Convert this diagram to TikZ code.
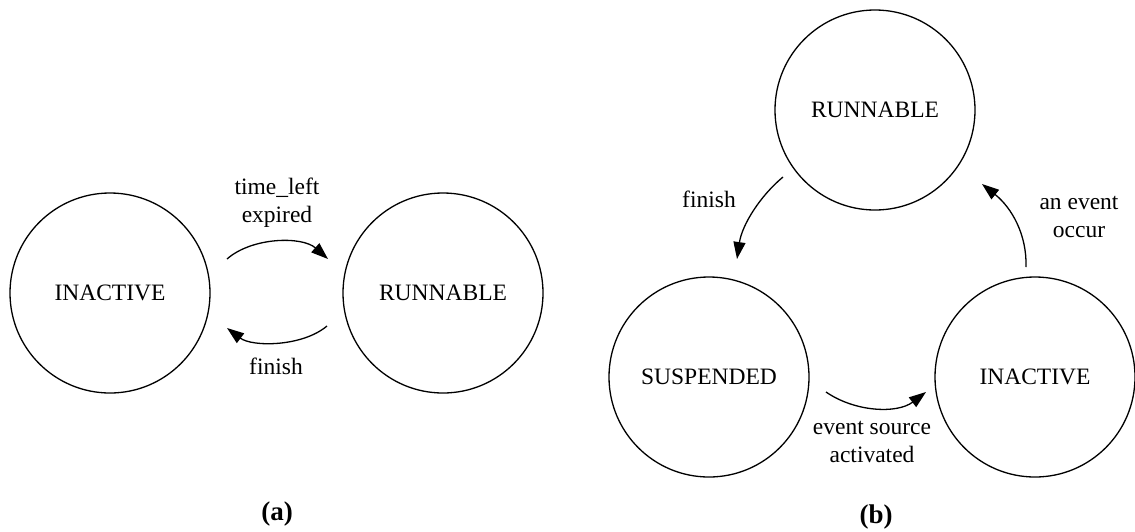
\documentclass[tikz,border=0pt]{standalone}
\usepackage{fontspec}
\setmainfont{Liberation Serif}
\usetikzlibrary{arrows.meta}
\begin{document}
\begin{tikzpicture}[x=1pt,y=-1pt,
  state/.style={draw,circle,line width=1.3pt,minimum size=200pt,inner sep=0pt,font=\fontsize{23.5}{28}\selectfont},
  lbl/.style={align=center,inner sep=0pt,font=\fontsize{23.5}{28}\selectfont},
  sublbl/.style={inner sep=0pt,font=\fontsize{27}{30}\selectfont\bfseries},
  arr/.style={line width=1.3pt,-{Triangle[length=17pt,width=12pt]}}]
\useasboundingbox (0,0) rectangle (1135,531);
% (a)
\node[state] (ia) at (110,293) {INACTIVE};
\node[state] (ra) at (443,293) {RUNNABLE};
\coordinate (a1s) at (227,259);
\coordinate (a1e) at (328,259);
\coordinate (a2s) at (327,326);
\coordinate (a2e) at (227,328);
\draw[arr] (a1s) .. controls (252,237) and (302,236) .. (a1e);
\draw[arr] (a2s) .. controls (302,347) and (252,347) .. (a2e);
\node[lbl] (l1) at (277,203) {time\_left\\expired};
\node[lbl] (l2) at (276,366) {finish};
\node[sublbl] (ca) at (277,514) {(a)};
% (b)
\node[state] (rb) at (875,110) {RUNNABLE};
\node[state] (sb) at (709,377) {SUSPENDED};
\node[state] (ib) at (1035,377) {INACTIVE};
\coordinate (b1s) at (783,177);
\coordinate (b1e) at (737,259);
\coordinate (b2s) at (826,392);
\coordinate (b2e) at (926,392);
\coordinate (b3s) at (1026,267);
\coordinate (b3e) at (982,184);
\draw[arr] (b1s) .. controls (760,196) and (742,225) .. (b1e);
\draw[arr] (b2s) .. controls (855,412) and (897,414) .. (b2e);
\draw[arr] (b3s) .. controls (1027,235) and (1012,208) .. (b3e);
\node[lbl] (l3) at (709,199) {finish};
\node[lbl] (l4) at (1079,217) {an event\\occur};
\node[lbl] (l5) at (872,442) {event source\\activated};
\node[sublbl] (cb) at (876,517) {(b)};
\end{tikzpicture}
\end{document}
